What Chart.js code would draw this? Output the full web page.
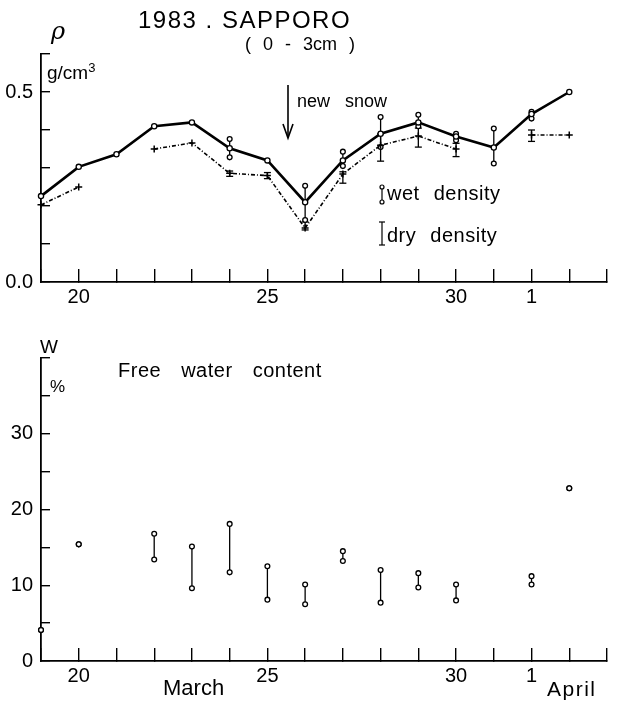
<!DOCTYPE html>
<html>
<head>
<meta charset="utf-8">
<script src="https://cdn.jsdelivr.net/npm/chart.js@4.4.1/dist/chart.umd.min.js"></script>
<style>
body { margin: 0; background: #fff; }
#wrap { position: relative; width: 619px; height: 701px; font-family: "Liberation Sans", sans-serif; color: #000; }
#wrap canvas { position: absolute; left: 0; }
.t { position: absolute; white-space: pre; line-height: 1; }
</style>
</head>
<body>
<div id="wrap">
<canvas id="densityChart" width="619" height="315" style="top:0"></canvas>
<canvas id="waterChart" width="619" height="386" style="top:315px"></canvas>

<div class="t" style="left:138px;top:8px;font-size:24px;letter-spacing:1.5px">1983 . SAPPORO</div>
<div class="t" style="left:245px;top:35px;font-size:18px;word-spacing:7px">( 0 - 3cm )</div>
<div class="t" style="left:51px;top:19px;font-size:24px;font-style:italic;font-family:'DejaVu Serif',serif">ρ</div>
<div class="t" style="left:47px;top:61px;font-size:19px">g/cm<sup style="font-size:13px">3</sup></div>
<div class="t" style="left:297px;top:92px;font-size:18px;word-spacing:10px">new snow</div>
<div class="t" style="left:387px;top:183px;font-size:20px;word-spacing:8px;letter-spacing:0.5px">wet density</div>
<div class="t" style="left:387px;top:225px;font-size:20px;word-spacing:8px;letter-spacing:0.5px">dry density</div>

<div class="t" style="left:40px;top:337px;font-size:19px">W</div>
<div class="t" style="left:50px;top:378px;font-size:17px">%</div>
<div class="t" style="left:118px;top:360px;font-size:20px;word-spacing:14px;letter-spacing:0.5px">Free water content</div>
<div class="t" style="left:163px;top:677px;font-size:22px">March</div>
<div class="t" style="left:547px;top:678px;font-size:21px;letter-spacing:1.5px">April</div>

<svg width="619" height="701" style="position:absolute;left:0;top:0;pointer-events:none">
  <g stroke="#000" fill="none" stroke-width="1.6">
    <line x1="288" y1="85" x2="288" y2="137"/>
    <polyline points="283,124 288,138 293,124"/>
  </g>
  <g stroke="#000" fill="#fff" stroke-width="1.2">
    <line x1="382" y1="188" x2="382" y2="201"/>
    <circle cx="382" cy="187" r="2"/>
    <circle cx="382" cy="202" r="2"/>
    <line x1="382" y1="222" x2="382" y2="245"/>
    <line x1="379" y1="222" x2="385" y2="222"/>
    <line x1="379" y1="245" x2="385" y2="245"/>
  </g>
</svg>
</div>

<script>
// days counted from 1 March, so 32 = 1 April
const days = [19, 20, 21, 22, 23, 24, 25, 26, 27, 28, 29, 30, 31, 32, 33];
const wetDensity = [0.226, 0.303, 0.336, 0.41, 0.42, 0.352, 0.32, 0.21, 0.32, 0.39, 0.42, 0.383, 0.354, 0.442, 0.50];
const dryDensity = [0.203, 0.25, null, 0.35, 0.366, 0.286, 0.28, 0.142, 0.284, 0.36, 0.384, 0.35, null, 0.387, 0.387];

const wetRangeDays = [24, 26, 27, 28, 29, 30, 31, 32];
const wetRangeLow = [0.328, 0.163, 0.305, 0.355, 0.41, 0.373, 0.312, 0.43];
const wetRangeHigh = [0.376, 0.253, 0.343, 0.434, 0.44, 0.39, 0.404, 0.448];

const dryRangeDays = [24, 25, 26, 27, 28, 29, 30, 32];
const dryRangeLow = [0.278, 0.272, 0.137, 0.26, 0.318, 0.355, 0.33, 0.37];
const dryRangeHigh = [0.292, 0.288, 0.158, 0.29, 0.39, 0.405, 0.365, 0.40];

const waterDays = [19, 20, 22, 23, 24, 25, 26, 27, 28, 29, 30, 32, 33];
const waterLow = [4.1, 15.4, 13.4, 9.6, 11.7, 8.1, 7.5, 13.2, 7.7, 9.7, 8.0, 10.1, 22.8];
const waterHigh = [4.1, 15.4, 16.8, 15.1, 18.1, 12.5, 10.1, 14.5, 12.0, 11.6, 10.1, 11.2, 22.8];

const xTickDays = [20, 25, 30, 32];
const xTickLabels = ['20', '25', '30', '1'];
const densityTickLabels = { 0: '0.0', 5: '0.5' };   // keyed by tenths
const waterTickLabels = { 0: '0', 10: '10', 20: '20', 30: '30' };

Chart.defaults.font.family = '"Liberation Sans", sans-serif';
Chart.defaults.color = '#000';

const rangeSet = (d, lo, hi, style) => ({
    data: [{ x: d, y: lo }, { x: d, y: hi }],
    borderColor: '#000',
    borderWidth: 1.3,
    pointStyle: style,
    pointRadius: style === 'line' ? 3.5 : 2.4,
    pointBackgroundColor: '#fff',
    pointBorderColor: '#000',
    pointBorderWidth: 1.3,
    clip: 6
});

const axisOptions = (yMax, yStep, yLabel, xHeight) => ({
    x: {
        type: 'linear', min: 19, max: 34,
        afterFit: scale => {
            scale.height = xHeight;
            scale.paddingLeft = 0;
            scale.paddingRight = 0;
        },
        border: { color: '#000', width: 1.8 },
        grid: { drawOnChartArea: false, color: '#000', lineWidth: 1.4, tickLength: -13 },
        ticks: {
            stepSize: 1, padding: 16, autoSkip: false, maxRotation: 0,
            font: { size: 20 },
            callback: v => { const i = xTickDays.indexOf(v); return i >= 0 ? xTickLabels[i] : ''; }
        }
    },
    y: {
        min: 0, max: yMax,
        afterFit: scale => { scale.width = 41; },
        border: { color: '#000', width: 1.8 },
        grid: { drawOnChartArea: false, color: '#000', lineWidth: 1.4, tickLength: -9 },
        ticks: { stepSize: yStep, padding: 17, autoSkip: false, font: { size: 20 }, callback: yLabel }
    }
});

const baseOptions = {
    responsive: false,
    animation: false,
    plugins: { legend: { display: false }, tooltip: { enabled: false } }
};

// Density chart
const densityDatasets = [
    {
        data: days.map((d, i) => ({ x: d, y: wetDensity[i] })),
        borderColor: '#000', borderWidth: 2.6,
        pointRadius: 2.6, pointBackgroundColor: '#fff', pointBorderColor: '#000', pointBorderWidth: 1.3,
        clip: 6
    },
    {
        data: days.map((d, i) => ({ x: d, y: dryDensity[i] })),
        borderColor: '#000', borderWidth: 1.6, borderDash: [4, 2, 1, 2],
        pointStyle: 'cross', pointRadius: 3.5, pointBorderColor: '#000', pointBorderWidth: 1.5,
        spanGaps: false, clip: 6
    }
];
wetRangeDays.forEach((d, i) => densityDatasets.push(rangeSet(d, wetRangeLow[i], wetRangeHigh[i], 'circle')));
dryRangeDays.forEach((d, i) => densityDatasets.push(rangeSet(d, dryRangeLow[i], dryRangeHigh[i], 'line')));

new Chart(document.getElementById('densityChart').getContext('2d'), {
    type: 'line',
    data: { datasets: densityDatasets },
    options: Object.assign({}, baseOptions, {
        layout: { padding: { left: 0, right: 12, top: 54, bottom: 0 } },
        scales: axisOptions(0.6, 0.1, v => densityTickLabels[Math.round(v * 10)] || '', 33)
    })
});

// Free water content chart
const waterDatasets = waterDays.map((d, i) => rangeSet(d, waterLow[i], waterHigh[i], 'circle'));

new Chart(document.getElementById('waterChart').getContext('2d'), {
    type: 'line',
    data: { datasets: waterDatasets },
    options: Object.assign({}, baseOptions, {
        layout: { padding: { left: 0, right: 12, top: 43, bottom: 0 } },
        scales: axisOptions(40, 5, v => waterTickLabels[v] || '', 40)
    })
});
</script>
</body>
</html>
